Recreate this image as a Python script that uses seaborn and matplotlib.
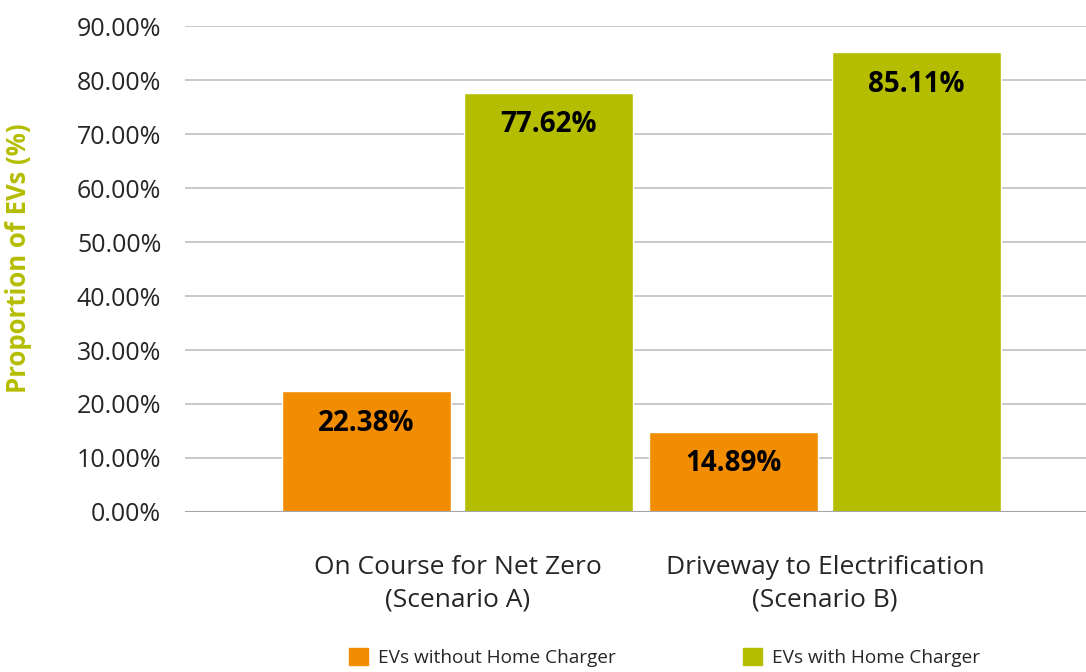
import pandas as pd
import matplotlib
matplotlib.use("Agg")
import matplotlib.pyplot as plt
import seaborn as sns
from matplotlib.ticker import FuncFormatter

scenarios = ["On Course for Net Zero\n(Scenario A)", "Driveway to Electrification\n(Scenario B)"]
series_names = ["EVs without Home Charger", "EVs with Home Charger"]
without_charger = [22.38, 14.89]
with_charger = [77.62, 85.11]
colors = ["#F28C00", "#B5BD00"]

df = pd.DataFrame({
    "scenario": scenarios * 2,
    "series": [series_names[0]] * 2 + [series_names[1]] * 2,
    "value": without_charger + with_charger,
})

sns.set_style("white")
plt.rcParams["font.family"] = ["Open Sans", "DejaVu Sans"]

fig = plt.figure(figsize=(10.86, 6.72), dpi=100)
ax = fig.add_axes([0.1703, 0.2381, 0.8297, 0.7232])

sns.barplot(data=df, x="scenario", y="value", hue="series", palette=colors,
            width=0.993, gap=0.075, saturation=1, ax=ax, legend=False, zorder=3)

ax.set_ylim(0, 90)
ax.set_xlim(-0.7415, 1.71)
ax.set_yticks(range(0, 91, 10))
ax.yaxis.set_major_formatter(FuncFormatter(lambda v, p: f"{v:.2f}%"))
ax.grid(axis="y", color="#BFBFBF", linewidth=1.2, zorder=0)
for s in ax.spines.values():
    s.set_visible(False)
ax.axhline(0, color="#A6A6A6", linewidth=1.5, zorder=4)
ax.tick_params(axis="y", labelsize=18, length=0, pad=17)
ax.tick_params(axis="x", labelsize=19, length=0, pad=31)
for lbl in ax.get_xticklabels():
    lbl.set_linespacing(1.4)
ax.set_xlabel("")
ax.set_ylabel("Proportion of EVs (%)", fontsize=18.5, fontweight="bold",
              color="#B5BD00")
ax.yaxis.set_label_coords(-0.170, 0.523)

for cont in ax.containers:
    for bar in cont:
        h = bar.get_height()
        ax.annotate(f"{h:.2f}%", (bar.get_x() + bar.get_width() / 2, h),
                    xytext=(0, -23), textcoords="offset points",
                    ha="center", va="center", fontsize=20, fontweight="bold",
                    color="black", zorder=5)

handles = [plt.Rectangle((0, 0), 1, 1, color=c) for c in colors]
fig.legend(handles, series_names, loc="center", bbox_to_anchor=(0.612, 0.021),
           ncol=2, frameon=False, fontsize=13.7, handlelength=1, handleheight=1,
           handletextpad=0.5, columnspacing=6.7)

fig.savefig("out.png", dpi=100)
